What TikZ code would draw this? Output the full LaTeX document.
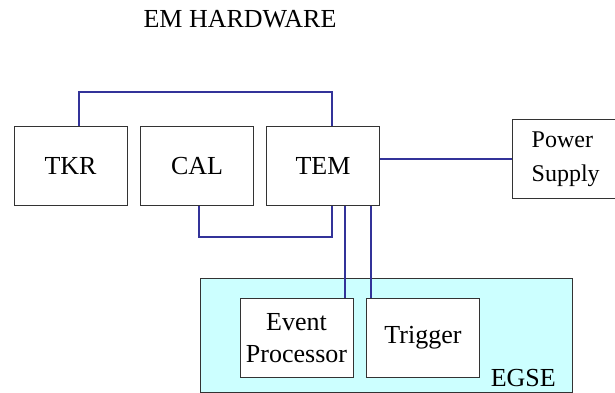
\documentclass[tikz,border=0pt]{standalone}
\usepackage{fontspec}
\setmainfont{Liberation Serif}
\definecolor{wire}{HTML}{333399}
\definecolor{egsefill}{HTML}{CCFFFF}
\definecolor{edge}{HTML}{333333}
\begin{document}
\begin{tikzpicture}[x=1pt,y=-1pt,
  box/.style={draw=edge,line width=1pt,fill=white,minimum width=113pt,minimum height=79pt,inner sep=0pt,anchor=north west,font=\fontsize{26}{32}\selectfont,align=center},
  wire/.style={draw=wire,line width=2pt},
  lbl/.style={inner sep=0pt,font=\fontsize{26}{32}\selectfont}]
\useasboundingbox (0,0) rectangle (615,393);
\clip (0,0) rectangle (615,393);
\fill[white] (0,0) rectangle (615,393);
\node[lbl,anchor=base] (title) at (240,28) {EM HARDWARE};
\node[box] (tkr) at (13.5,126) {TKR};
\node[box] (cal) at (140,126) {CAL};
\node[box] (tem) at (266,126) {TEM};
\node[box,minimum width=112pt,font=\fontsize{24}{34}\selectfont,align=left] (ps) at (512,119) {};
\node[lbl,font=\fontsize{24}{34}\selectfont,align=left,anchor=west] (pstext) at (531.5,159) {Power\\Supply};
\node[draw=edge,line width=1pt,fill=egsefill,minimum width=372pt,minimum height=114pt,inner sep=0pt,anchor=north west] (egse) at (199.5,278) {};
\node[lbl,anchor=base east] (egsetext) at (556,386) {EGSE};
\node[box,font=\fontsize{26}{32}\selectfont] (ep) at (239.5,298) {Event\\Processor};
\node[box] (trig) at (366,298) {Trigger};
\draw[wire] (79,0 |- tkr.north) -- (79,92) -- (331.5,92) -- (331.5,0 |- tem.north);
\draw[wire] (199,0 |- cal.south) -- (199,237) -- (331.5,237) -- (331.5,0 |- tem.south);
\draw[wire] (344.5,0 |- tem.south) -- (344.5,0 |- ep.north);
\draw[wire] (371,0 |- tem.south) -- (371,0 |- trig.north);
\draw[wire] (tem.east |- 0,159) -- (ps.west |- 0,159);
\end{tikzpicture}
\end{document}
